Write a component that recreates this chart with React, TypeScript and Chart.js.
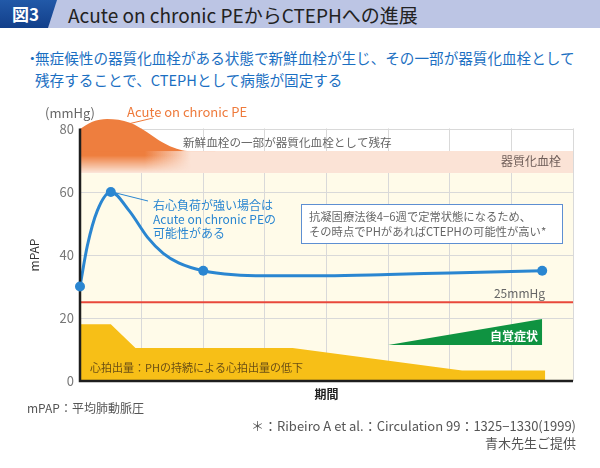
import React, { useEffect, useRef } from "react";
import { Chart, registerables } from "chart.js";
Chart.register(...registerables);

const FONT = '"Noto Sans CJK JP", "Noto Sans", sans-serif';

// y axis ticks (mmHg)
const yTicks = [0, 20, 40, 60, 80];
// mPAP curve
const mpapX = [0, 0.12, 0.28, 0.5, 0.8, 1.1, 1.35, 1.6, 2, 2.5, 3, 4, 5, 6, 7.5];
const mpapY = [30, 43, 54, 60, 54, 45.5, 40.5, 37.5, 35, 33.7, 33.4, 33.4, 33.8, 34.3, 35];
// highlighted points on the mPAP curve
const markerX = [0, 0.5, 2, 7.5];
const markerY = [30, 60, 35, 35];
// Acute on chronic PE (fresh thrombus) outline
const acuteX = [0, 0.2, 0.44, 0.81, 1.09, 1.35, 1.57, 1.74, 2.2];
const acuteY = [80, 82.3, 83.2, 82, 79, 75.6, 73.7, 73, 73];
// organized thrombus band
const bandX = [0, 8];
const bandTop = [73, 73];
const bandBottom = 66;
// cardiac output
const coX = [0, 0.5, 0.9, 3.45, 6.2, 7.55];
const coY = [18, 18, 10.5, 10.5, 3.3, 3.3];
// subjective symptoms wedge
const symX = [5, 7.5];
const symY = [11.4, 19.7];
const symBase = 11.4;
// PH threshold
const thresholdX = [0, 8];
const threshold = 25;

const pts = (xs: number[], ys: number[]) => xs.map((x, i) => ({ x, y: ys[i] }));

function acuteFill(context: any) {
  const chart = context.chart;
  if (!chart.chartArea || !chart.scales.x || !chart.scales.y) return "rgb(238,126,62)";
  const xs = chart.scales.x;
  const ys = chart.scales.y;
  const off = document.createElement("canvas");
  off.width = chart.width;
  off.height = chart.height;
  const o = off.getContext("2d")!;
  const hg = o.createLinearGradient(xs.getPixelForValue(1.05), 0, xs.getPixelForValue(1.8), 0);
  hg.addColorStop(0, "rgba(238,126,62,1)");
  hg.addColorStop(1, "rgba(238,126,62,0)");
  o.fillStyle = hg;
  o.fillRect(0, 0, off.width, off.height);
  o.globalCompositeOperation = "destination-in";
  const vg = o.createLinearGradient(0, ys.getPixelForValue(71.6), 0, ys.getPixelForValue(66.2));
  vg.addColorStop(0, "rgba(0,0,0,1)");
  vg.addColorStop(1, "rgba(0,0,0,0)");
  o.fillStyle = vg;
  o.fillRect(0, 0, off.width, off.height);
  o.globalCompositeOperation = "source-over";
  o.fillStyle = "rgb(238,126,62)";
  o.fillRect(0, 0, off.width, ys.getPixelForValue(73));
  return chart.ctx.createPattern(off, "no-repeat");
}

const annotPlugin = {
  id: "annot",
  beforeDraw(chart: any) {
    const { ctx } = chart;
    const xs = chart.scales.x;
    const ys = chart.scales.y;
    ctx.save();
    ctx.fillStyle = "#fffbe9";
    const x0 = xs.getPixelForValue(0);
    const x1 = xs.getPixelForValue(8);
    const yTop = ys.getPixelForValue(bandBottom);
    const yBot = ys.getPixelForValue(0);
    ctx.fillRect(x0, yTop, x1 - x0, yBot - yTop);
    ctx.restore();
  },
  beforeDatasetsDraw(chart: any) {
    const { ctx, chartArea } = chart;
    const ys = chart.scales.y;
    ctx.save();
    ctx.fillStyle = "#ffffff";
    const top = chartArea.top - 1;
    ctx.fillRect(chartArea.left - 2, top, chartArea.right - chartArea.left + 4, ys.getPixelForValue(80) - 0.6 - top);
    ctx.restore();
  },
  afterDatasetDraw(chart: any, args: any) {
    if (args.index !== 1) return;
    const { ctx } = chart;
    const xs = chart.scales.x;
    const ys = chart.scales.y;
    const L = xs.getPixelForValue(0);
    const R = xs.getPixelForValue(8);
    const T = ys.getPixelForValue(80);
    const B = ys.getPixelForValue(0);
    ctx.save();
    ctx.strokeStyle = "#1e1e1e";
    ctx.lineWidth = 2.5;
    ctx.beginPath();
    ctx.moveTo(L, T - 0.5);
    ctx.lineTo(L, B);
    ctx.lineTo(R, B);
    ctx.stroke();
    ctx.restore();
  },
  afterDatasetsDraw(chart: any) {
    const { ctx } = chart;
    const xs = chart.scales.x;
    const L = xs.getPixelForValue(0);
    const R = xs.getPixelForValue(8);
    ctx.save();

    const txt = (s: string, x: number, y: number, size: number, color: string, align: CanvasTextAlign = "left", weight = "normal") => {
      ctx.font = `${weight} ${size}px ${FONT}`;
      ctx.fillStyle = color;
      ctx.textAlign = align;
      ctx.textBaseline = "middle";
      ctx.fillText(s, x, y);
    };
    const line = (x1: number, y1: number, x2: number, y2: number, color: string) => {
      ctx.strokeStyle = color;
      ctx.lineWidth = 1;
      ctx.beginPath();
      ctx.moveTo(x1, y1);
      ctx.lineTo(x2, y2);
      ctx.stroke();
    };

    txt("(mmHg)", 70, 113, 13, "#666", "center");
    txt("Acute on chronic PE", 127, 112, 13, "#ee7a3b");
    line(153, 118, 128, 124, "#ee7a3b");
    txt("新鮮血栓の一部が器質化血栓として残存", 183, 143, 11.6, "#666");
    txt("器質化血栓", 561, 161, 12, "#6e5d58", "right");

    txt("右心負荷が強い場合は", 153, 205, 12, "#2a86d1");
    txt("Acute on chronic PEの", 153, 219, 12, "#2a86d1");
    txt("可能性がある", 153, 233, 12, "#2a86d1");
    line(116, 193, 148, 201, "#2a86d1");

    // note box
    ctx.fillStyle = "#ffffff";
    ctx.fillRect(301, 204, 261, 39);
    ctx.strokeStyle = "#5d8fd2";
    ctx.lineWidth = 1;
    ctx.strokeRect(301.5, 204.5, 261, 39);
    txt("抗凝固療法後4−6週で定常状態になるため、", 309, 217, 11.3, "#666");
    txt("その時点でPHがあればCTEPHの可能性が高い*", 309, 232, 11.3, "#666");

    txt("25mmHg", 545, 293, 12, "#666", "right");
    txt("自覚症状", 538, 336, 12, "#ffffff", "right", "bold");
    txt("心拍出量：PHの持続による心拍出量の低下", 90, 368, 11, "#6b4f14");

    // axis titles
    txt("期間", (L + R) / 2, 394, 12, "#222", "center", "bold");
    ctx.save();
    ctx.translate(34, 255);
    ctx.rotate(-Math.PI / 2);
    txt("mPAP", 0, 0, 12, "#333", "center");
    ctx.restore();
    ctx.restore();
  },
};

export default function App() {
  const ref = useRef<HTMLCanvasElement | null>(null);
  useEffect(() => {
    if (!ref.current) return;
    const chart = new Chart(ref.current, {
      type: "line",
      data: {
        datasets: [
          {
            data: pts(markerX, markerY),
            showLine: false,
            pointRadius: 5,
            pointBackgroundColor: "#2a86d1",
            pointBorderWidth: 0,
            fill: false,
            clip: false,
          },
          {
            data: pts(mpapX, mpapY),
            borderColor: "#2a86d1",
            borderWidth: 3,
            pointRadius: 0,
            cubicInterpolationMode: "monotone",
            fill: false,
          },
          {
            data: thresholdX.map((x) => ({ x, y: threshold })),
            borderColor: "#e8483b",
            borderWidth: 2,
            pointRadius: 0,
            fill: false,
          },
          {
            data: pts(symX, symY),
            borderWidth: 0,
            borderColor: "rgba(0,0,0,0)",
            backgroundColor: "#0f9341",
            pointRadius: 0,
            fill: { value: symBase },
          },
          {
            data: pts(coX, coY),
            borderWidth: 0,
            borderColor: "rgba(0,0,0,0)",
            backgroundColor: "#f7bf17",
            pointRadius: 0,
            fill: "origin",
          },
          {
            data: pts(acuteX, acuteY),
            borderWidth: 0,
            borderColor: "rgba(0,0,0,0)",
            backgroundColor: acuteFill,
            pointRadius: 0,
            cubicInterpolationMode: "monotone",
            fill: { value: bandBottom },
            clip: false,
          },
          {
            data: pts(bandX, bandTop),
            borderWidth: 0,
            borderColor: "rgba(0,0,0,0)",
            backgroundColor: "#fbe3d6",
            pointRadius: 0,
            fill: { value: bandBottom },
          },
        ],
      },
      options: {
        animation: false,
        responsive: false,
        devicePixelRatio: 1,
        events: [],
        layout: { padding: { left: 0, right: 27, top: 116.4, bottom: 87 } },
        plugins: { legend: { display: false }, tooltip: { enabled: false } },
        scales: {
          x: {
            type: "linear",
            min: 0,
            max: 8,
            ticks: { display: false, stepSize: 1 },
            grid: { color: "#d9d9d9", lineWidth: 1, drawTicks: false },
            border: { display: false },
            afterFit: (s: any) => {
              s.height = 0;
            },
          },
          y: {
            type: "linear",
            min: 0,
            max: 84,
            afterBuildTicks: (s: any) => {
              s.ticks = yTicks.map((v) => ({ value: v }));
            },
            ticks: { color: "#777", padding: 6, font: { family: FONT, size: 13 } },
            grid: { color: "#d9d9d9", lineWidth: 1, drawTicks: false },
            border: { display: false },
            afterFit: (s: any) => {
              s.width = 80;
            },
          },
        },
      },
      plugins: [annotPlugin],
    } as any);
    return () => chart.destroy();
  }, []);

  return (
    <div style={{ position: "absolute", left: 0, top: 0, width: 600, height: 468, background: "#fff", fontFamily: FONT, overflow: "hidden" }}>
      <div style={{ position: "absolute", left: 0, top: 0, width: 600, height: 28, background: "#bcc5e4" }} />
      <div
        style={{
          position: "absolute",
          left: 0,
          top: 0,
          width: 57,
          height: 28,
          background: "linear-gradient(180deg, #2259a8, #123f8a)",
          clipPath: "polygon(0 0, 57px 0, 48px 28px, 0 28px)",
        }}
      />
      <div style={{ position: "absolute", left: 12, top: 0, height: 28, lineHeight: "28px", color: "#fff", fontSize: 17, fontWeight: "bold" }}>図3</div>
      <div style={{ position: "absolute", left: 68, top: 0, height: 30, lineHeight: "30px", color: "#222", fontSize: 19, whiteSpace: "nowrap" }}>
        Acute on chronic PEからCTEPHへの進展
      </div>
      <div style={{ position: "absolute", left: 25, top: 47, lineHeight: "22px", fontSize: 14.6, color: "#1b6fc2" }}>・</div>
      <div style={{ position: "absolute", left: 35, top: 47, lineHeight: "22px", fontSize: 14.6, color: "#1b6fc2", whiteSpace: "nowrap" }}>
        無症候性の器質化血栓がある状態で新鮮血栓が生じ、その一部が器質化血栓として
        <br />
        残存することで、CTEPHとして病態が固定する
      </div>
      <canvas ref={ref} width={600} height={468} style={{ position: "absolute", left: 0, top: 0, width: 600, height: 468 }} />
      <div style={{ position: "absolute", left: 27, top: 400, lineHeight: "16px", fontSize: 12, color: "#555", whiteSpace: "nowrap" }}>mPAP：平均肺動脈圧</div>
      <div style={{ position: "absolute", right: 24, top: 417, lineHeight: "17px", fontSize: 13, color: "#555", whiteSpace: "nowrap", textAlign: "right" }}>
        ＊：Ribeiro A et al.：Circulation 99：1325−1330(1999)
        <br />
        青木先生ご提供
      </div>
    </div>
  );
}
